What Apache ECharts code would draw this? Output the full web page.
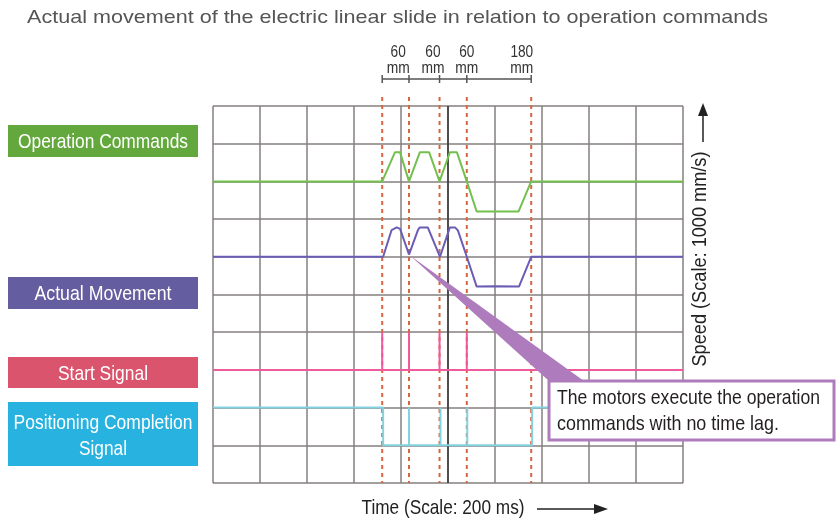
<!DOCTYPE html>
<html>
<head>
<meta charset="utf-8">
<script src="https://cdn.jsdelivr.net/npm/echarts@6/dist/echarts.min.js"></script>
<style>
  html, body { margin: 0; padding: 0; background: #fff; }
  #chart { width: 840px; height: 523px; }
</style>
</head>
<body>
<div id="chart"></div>
<script>
// time in grid divisions (1 div = 200 ms), speed in mm/s (1 div = 1000 mm/s)
const cmdTime = [0, 3.6, 3.87, 3.98, 4.17, 4.4, 4.6, 4.82, 5.04, 5.19, 5.4, 5.61, 6.5, 6.77, 10];
const cmdSpeed = [0, 0, 770, 770, 0, 770, 770, 0, 770, 770, 0, -800, -800, 0, 0];

const actTime = [0, 3.62, 3.8, 3.91, 3.98, 4.17, 4.36, 4.4, 4.57, 4.83, 5.04, 5.15, 5.21, 5.4, 5.61, 6.0, 6.51, 6.77, 10];
const actSpeed = [0, 0, 710, 780, 740, 60, 710, 780, 780, 0, 780, 780, 700, 0, -790, -780, -790, 0, 0];

const startTimes = [3.6, 4.17, 4.82, 5.4];

const posTime = [0, 3.62, 3.62, 4.17, 4.17, 4.17, 4.84, 4.84, 4.84, 5.41, 5.41, 5.41, 6.79, 6.79, 10];
const posLevel = [1, 1, 0, 0, 1, 0, 0, 1, 0, 0, 1, 0, 0, 1, 1];

const commandTimes = [3.6, 4.17, 4.82, 5.4, 6.77];
const moveLabels = ['60', '60', '60', '180'];

const labels = ['Operation Commands', 'Actual Movement', 'Start Signal', 'Positioning Completion', 'Signal'];

// channel baselines on the 10-division screen
const base = { cmd: 8, act: 6, start: 3, pos: 1 };
const speedPerDiv = 1000;

const family = "'Liberation Sans', Arial, sans-serif";
const measureCtx = document.createElement('canvas').getContext('2d');
// squeeze regular text to look like the condensed face of the original
function fit(text, size, width) {
  measureCtx.font = size + 'px ' + family;
  return width / measureCtx.measureText(text).width;
}

const toPairs = (xs, ys, off, k) => xs.map((x, i) => [x, off + ys[i] * k]);

const startData = [[0, base.start]];
startTimes.forEach(t => {
  startData.push([t, base.start], [t, base.start + 1], [t, base.start]);
});
startData.push([10, base.start]);

const chart = echarts.init(document.getElementById('chart'));

const option = {
  animation: false,
  grid: { left: 213, top: 106, width: 470, height: 377 },
  xAxis: {
    type: 'value', min: 0, max: 10, interval: 1,
    axisLine: { show: false }, axisTick: { show: false }, axisLabel: { show: false },
    splitLine: { show: true, lineStyle: { color: '#857f7f', width: 1.5 } }
  },
  yAxis: {
    type: 'value', min: 0, max: 10, interval: 1,
    axisLine: { show: false }, axisTick: { show: false }, axisLabel: { show: false },
    splitLine: { show: true, lineStyle: { color: '#857f7f', width: 1.5 } }
  },
  series: [
    {
      type: 'line', name: 'centre', data: [], silent: true,
      markLine: {
        symbol: 'none', silent: true, label: { show: false },
        lineStyle: { color: '#333', width: 1.5, type: 'solid' },
        data: [{ xAxis: 5 }]
      }
    },
    {
      type: 'line', name: 'Operation Commands', showSymbol: false, symbol: 'none',
      lineStyle: { color: '#73c04f', width: 2 },
      data: toPairs(cmdTime, cmdSpeed, base.cmd, 1 / speedPerDiv), z: 5
    },
    {
      type: 'line', name: 'Actual Movement', showSymbol: false, symbol: 'none',
      lineStyle: { color: '#6b5cb6', width: 2 },
      data: toPairs(actTime, actSpeed, base.act, 1 / speedPerDiv), z: 5
    },
    {
      type: 'line', name: 'Start Signal', showSymbol: false, symbol: 'none',
      lineStyle: { color: '#ee5a9c', width: 2 },
      data: startData, z: 5
    },
    {
      type: 'line', name: 'Positioning Completion Signal', showSymbol: false, symbol: 'none',
      lineStyle: { color: '#82d2e0', width: 2 },
      data: toPairs(posTime, posLevel, base.pos, 1), z: 5
    }
  ]
};

chart.setOption(option);

function text(x, y, s, size, width, fill, extra) {
  return Object.assign({
    type: 'text', x: x, y: y, scaleX: fit(s, size, width),
    style: { text: s, font: size + 'px ' + family, fill: fill, align: 'center', verticalAlign: 'middle' }
  }, extra || {});
}

function buildGraphics() {
  const px = (x, y) => chart.convertToPixel({ gridIndex: 0 }, [x, y]);
  const top = px(0, 10)[1];
  const bottom = px(0, 0)[1];
  const g = [];

  g.push(text(397.5, 18, 'Actual movement of the electric linear slide in relation to operation commands',
    19, 741, '#555'));

  // dashed command markers
  const cx = commandTimes.map(t => px(t, 0)[0]);
  cx.forEach(x => {
    g.push({
      type: 'line', z: 3,
      shape: { x1: x, y1: top - 9, x2: x, y2: bottom },
      style: { stroke: '#d9643e', lineWidth: 2, lineDash: [4, 4] }
    });
  });

  // distance bracket
  const by = 79;
  g.push({ type: 'line', shape: { x1: cx[0], y1: by, x2: cx[cx.length - 1], y2: by },
    style: { stroke: '#555', lineWidth: 1.5 } });
  cx.forEach(x => {
    g.push({ type: 'line', shape: { x1: x, y1: by - 4, x2: x, y2: by + 4 },
      style: { stroke: '#555', lineWidth: 1.5 } });
  });
  const labelDiv = [3.94, 4.68, 5.4, 6.57];
  moveLabels.forEach((s, i) => {
    const x = px(labelDiv[i], 0)[0];
    g.push(text(x, 52, s, 17, s.length * 7.6, '#333'));
    g.push(text(x, 68, 'mm', 17, 23, '#333'));
  });

  // channel labels
  const boxes = [
    { y: 125, h: 32, c: '#63a83c' },
    { y: 277, h: 32, c: '#645d9f' },
    { y: 357, h: 31, c: '#d9546c' },
    { y: 402, h: 64, c: '#28b2df' }
  ];
  boxes.forEach(b => {
    g.push({ type: 'rect', shape: { x: 8, y: b.y, width: 190, height: b.h }, style: { fill: b.c } });
  });
  const textW = [170, 137, 90, 179, 48];
  const textY = [142, 294, 374, 423, 449];
  labels.forEach((s, i) => g.push(text(103, textY[i], s, 21, textW[i], '#fff')));

  // speed axis label
  g.push(text(700, 259, 'Speed (Scale: 1000 mm/s)', 21, 215, '#222', { rotation: Math.PI / 2 }));
  g.push({ type: 'line', shape: { x1: 703, y1: 142, x2: 703, y2: 112 }, style: { stroke: '#222', lineWidth: 1.5 } });
  g.push({ type: 'polygon', shape: { points: [[703, 103], [698, 116], [708, 116]] }, style: { fill: '#222' } });

  // time axis label
  g.push(text(443, 508, 'Time (Scale: 200 ms)', 21, 163, '#222'));
  g.push({ type: 'line', shape: { x1: 537, y1: 509, x2: 598, y2: 509 }, style: { stroke: '#222', lineWidth: 1.5 } });
  g.push({ type: 'polygon', shape: { points: [[608, 509], [594, 504], [594, 514]] }, style: { fill: '#222' } });

  // callout
  const tip = px(actTime[5], base.act + actSpeed[5] / speedPerDiv);
  g.push({ type: 'polygon', z: 10,
    shape: { points: [[tip[0] + 1, tip[1] + 1], [584, 381], [549, 381]] },
    style: { fill: '#ae7cbc' } });
  g.push({ type: 'rect', z: 11, shape: { x: 549, y: 381, width: 285, height: 59 },
    style: { fill: '#fff', stroke: '#ae7cbc', lineWidth: 3 } });
  g.push(text(557 + 263 / 2, 398, 'The motors execute the operation', 21, 263, '#231f20', { z: 12 }));
  g.push(text(557 + 222 / 2, 424, 'commands with no time lag.', 21, 222, '#231f20', { z: 12 }));

  chart.setOption({ graphic: g });
}

buildGraphics();
</script>
</body>
</html>
